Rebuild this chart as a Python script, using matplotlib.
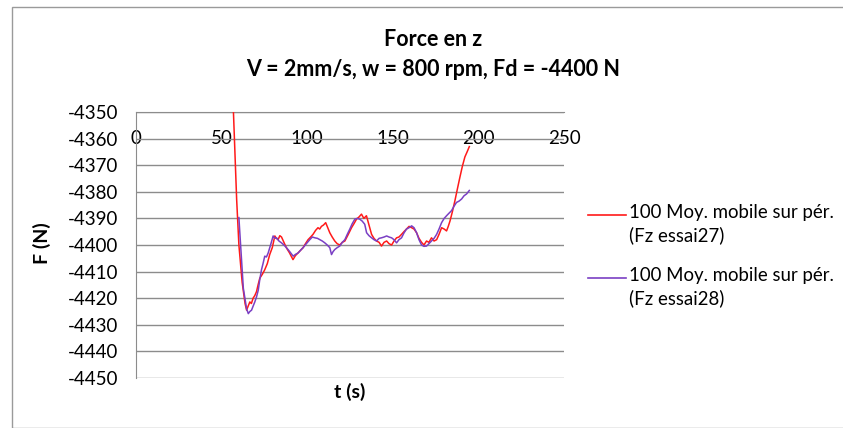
import numpy as np
import matplotlib
matplotlib.use("Agg")
from matplotlib import pyplot as plt
from matplotlib.lines import Line2D
from matplotlib.patches import Rectangle

# essai 27 (red) - moving average 100 periods
t27 = [56.8, 58.8, 60.1, 62.0, 63.7, 64.6, 65.5, 66.5, 67.4, 68.4, 69.4, 70.4, 71.3, 72.3, 73.8,
       75.2, 76.7, 78.1, 79.6, 81.1, 82.0, 83.0, 84.0, 85.0, 86.4, 87.8, 89.7, 91.7, 93.1,
       94.6, 96.1, 97.6, 99.0, 100.5, 102.0, 103.4, 104.9, 106.3, 107.3, 108.3, 109.5,
       110.8, 112.0, 113.2, 114.6, 116.1, 117.5, 119.0, 120.5, 122.0, 124.0, 125.9, 127.3,
       128.8, 130.2, 131.7, 133.1, 134.6, 136.1, 137.6, 139.0, 140.5, 142.0, 143.4, 144.9,
       146.4, 147.8, 149.3, 150.7, 152.2, 153.6, 155.1, 156.5, 158.0, 159.5, 161.0, 162.4,
       163.9, 165.3, 166.8, 168.2, 169.7, 171.1, 172.6, 174.1, 175.6, 177.0, 178.5, 180.0,
       181.4, 182.4, 183.4, 184.8, 186.3, 187.7, 189.2, 190.6, 192.1, 193.4, 194.7]
f27 = [-4348.0, -4383.0, -4400.0, -4414.0, -4422.0, -4424.5, -4423.0, -4421.4, -4422.0, -4420.0, -4419.0,
       -4417.5, -4415.0, -4412.5, -4411.0, -4409.3, -4407.0, -4403.6, -4401.0, -4396.6, -4397.5,
       -4398.0, -4396.5, -4397.0, -4399.0, -4401.0, -4403.0, -4405.5, -4404.0, -4403.0, -4402.0,
       -4401.0, -4399.5, -4398.0, -4397.0, -4396.0, -4394.5, -4393.5, -4394.0, -4393.0, -4392.5,
       -4391.6, -4393.5, -4395.4, -4397.0, -4398.5, -4399.5, -4400.0, -4399.0, -4398.5, -4396.0,
       -4393.5, -4392.0, -4390.3, -4389.5, -4388.4, -4390.0, -4389.0, -4392.5, -4396.0, -4397.5,
       -4398.5, -4399.0, -4400.4, -4399.0, -4398.5, -4399.5, -4400.0, -4398.5, -4397.3, -4397.0,
       -4396.0, -4395.0, -4394.0, -4393.0, -4393.5, -4394.0, -4395.4, -4397.5, -4399.0, -4400.0,
       -4398.5, -4399.0, -4397.3, -4398.5, -4398.0, -4396.0, -4393.5, -4394.0, -4394.7, -4393.0,
       -4391.0, -4387.5, -4383.3, -4379.0, -4374.5, -4370.5, -4366.9, -4365.0, -4363.0]

# essai 28 (purple)
t28 = [60.1, 61.1, 62.7, 64.6, 65.6, 66.5, 67.5, 68.4, 69.4, 70.4, 71.4, 72.3, 73.3, 74.2,
       75.2, 76.2, 77.2, 78.6, 80.1, 81.1, 82.1, 83.5, 85.0, 86.4, 87.9, 89.8, 91.8, 93.2,
       94.7, 96.1, 97.6, 99.5, 101.5, 103.0, 104.5, 106.0, 107.4, 108.8, 110.3, 111.7,
       113.2, 114.2, 115.1, 116.1, 117.5, 119.0, 120.5, 122.0, 123.4, 124.9, 126.3, 127.8,
       129.2, 130.7, 132.1, 133.6, 134.7, 136.1, 137.6, 139.0, 140.5, 142.0, 143.4, 144.9,
       146.4, 147.8, 149.3, 150.7, 152.2, 153.6, 155.1, 156.5, 158.0, 159.5, 161.0, 162.4,
       163.9, 165.3, 166.8, 168.2, 169.7, 171.1, 172.6, 174.1, 175.6, 177.0, 178.5, 180.0,
       181.4, 182.9, 184.3, 185.7, 187.2, 188.7, 190.2, 191.6, 193.1, 194.7]
f28 = [-4389.7, -4400.0, -4416.3, -4424.0, -4425.8, -4425.0, -4424.5, -4423.0, -4421.4, -4419.5,
       -4417.0, -4413.0, -4409.3, -4407.0, -4404.2, -4404.5, -4403.0, -4400.0, -4396.6, -4397.5,
       -4397.3, -4398.5, -4399.2, -4400.0, -4401.0, -4402.5, -4404.2, -4403.5, -4403.0, -4402.0,
       -4401.0, -4399.5, -4398.0, -4397.0, -4397.3, -4397.5, -4398.0, -4398.5, -4399.2, -4400.0,
       -4401.0, -4403.6, -4402.5, -4401.7, -4401.0, -4400.4, -4399.0, -4398.0, -4396.0, -4394.0,
       -4392.0, -4390.3, -4390.0, -4390.3, -4391.0, -4392.2, -4395.4, -4396.5, -4397.3, -4398.0,
       -4398.5, -4397.5, -4397.3, -4397.0, -4396.6, -4397.0, -4397.3, -4398.0, -4399.2, -4398.0,
       -4397.3, -4395.5, -4394.0, -4393.5, -4392.8, -4393.5, -4395.4, -4398.0, -4400.0, -4400.5,
       -4400.4, -4399.5, -4398.5, -4397.5, -4396.0, -4394.0, -4391.6, -4390.0, -4389.0, -4388.0,
       -4387.1, -4385.5, -4384.0, -4383.5, -4382.7, -4381.5, -4380.8, -4379.5]

xticks = [0, 50, 100, 150, 200, 250]
yticks = [-4450, -4440, -4430, -4420, -4410, -4400, -4390, -4380, -4370, -4360, -4350]
label27 = "100 Moy. mobile sur pér.\n(Fz essai27)"
label28 = "100 Moy. mobile sur pér.\n(Fz essai28)"
c27 = "#ff1a1a"
c28 = "#7a3fc4"

plt.rcParams['font.family'] = ['Lato', 'DejaVu Sans']
plt.rcParams['axes.unicode_minus'] = False

fig = plt.figure(figsize=(8.43, 4.28), dpi=100)
fig.patches.append(Rectangle((12 / 843, 0), 1, 1 - 7 / 428, transform=fig.transFigure,
                             fill=False, edgecolor="#9a9a9a", linewidth=1.0))

ax = fig.add_axes([136 / 843, 1 - 378 / 428, (564 - 136) / 843, (378 - 112) / 428])
ax.plot(t27, f27, color=c27, linewidth=1.1, zorder=3)
ax.plot(t28, f28, color=c28, linewidth=1.1, zorder=3)

ax.set_xlim(0, 250)
ax.set_ylim(-4450, -4350)
ax.set_xticks(xticks)
ax.set_yticks(yticks)
ax.yaxis.grid(True, color="#8c8c8c", linewidth=1.0)
ax.set_axisbelow(True)
for s in ["right", "bottom"]:
    ax.spines[s].set_visible(False)
ax.spines["left"].set_color("#8c8c8c")
ax.spines["top"].set_color("#8c8c8c")

ax.xaxis.set_ticks_position("top")
ax.tick_params(axis="x", length=0, labeltop=True, labelbottom=False, pad=-25, labelsize=13.5)
ax.tick_params(axis="y", length=0, labelsize=13.5, pad=13)

fig.text(433 / 843, 1 - 40 / 428, "Force en z", ha="center", va="center",
         fontsize=15.5, fontweight="bold")
fig.text(433 / 843, 1 - 70 / 428, "V = 2mm/s, w = 800 rpm, Fd = -4400 N", ha="center",
         va="center", fontsize=15.5, fontweight="bold")
fig.text(42 / 843, 1 - 243 / 428, "F (N)", rotation=90, ha="center", va="center",
         fontsize=14, fontweight="bold")
fig.text(350 / 843, 1 - 392 / 428, "t (s)", ha="center", va="center",
         fontsize=14, fontweight="bold")

# legend
for y0, col, lab in [(215, c27, label27), (278, c28, label28)]:
    fig.add_artist(Line2D([588 / 843, 626 / 843], [1 - y0 / 428] * 2, color=col,
                          linewidth=1.2, transform=fig.transFigure))
    fig.text(629 / 843, 1 - (y0 - 11) / 428, lab, ha="left", va="top", fontsize=13.4,
             linespacing=1.35)

fig.savefig("out.png", dpi=100)
